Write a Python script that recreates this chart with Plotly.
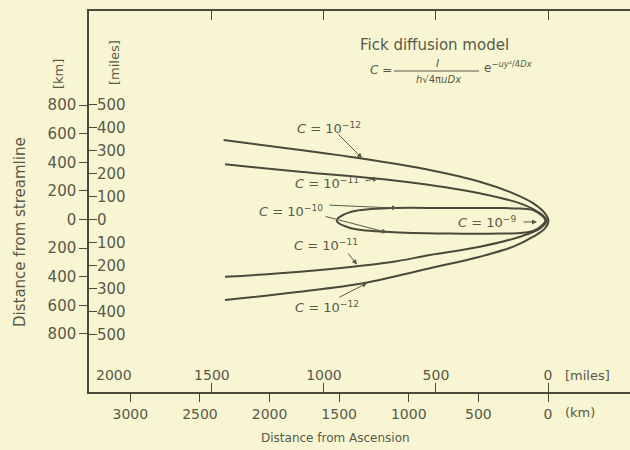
import plotly.graph_objects as go

KM_PER_MILE = 1.609344

# ---- data (km): x = distance from Ascension, y = distance from streamline ----
c12_x = [2330, 1780, 1350, 850, 490, 250, 105, 22, -3, 22, 106, 249, 489, 848, 1329, 1782, 2320]
c12_y = [556, 486, 428, 346, 264, 183, 113, 43, -7, -62, -120, -190, -260, -341, -446, -505, -563]
c11_x = [2320, 1782, 1135, 848, 489, 201, 57, 10, 57, 201, 489, 848, 1135, 1782, 2320]
c11_y = [386, 334, 276, 241, 183, 113, 43, -7, -62, -120, -190, -248, -299, -365, -400]
c10_x = [1518, 1422, 1135, 704, 345, 201, 108, 40, 18, 40, 108, 201, 345, 704, 1135, 1422, 1518]
c10_y = [-7, 52, 80, 80, 80, 77, 66, 24, -7, -38, -80, -94, -98, -98, -87, -59, -7]

km_x_ticks = [3000, 2500, 2000, 1500, 1000, 500, 0]
mile_x_ticks = [2000, 1500, 1000, 500, 0]
km_y_ticks = [-800, -600, -400, -200, 0, 200, 400, 600, 800]
mile_y_ticks = [-500, -400, -300, -200, -100, 0, 100, 200, 300, 400, 500]

x_range_km = [3297, -589]
y_range_km = [-1206, 1458]

# labels: (text, label x, label y, arrow tail x, tail y, head x, head y)
contour_labels = [
    ("<i>C</i> = 10<sup>−12</sup>", 1573, 640, 1516, 605, 1336, 430),
    ("<i>C</i> = 10<sup>−11</sup>", 1588, 255, 1322, 269, 1221, 286),
    ("<i>C</i> = 10<sup>−10</sup>", 1846, 59, 1580, 101, 1085, 80),
    (None, None, None, 1609, 24, 1157, -90),
    ("<i>C</i> = 10<sup>−11</sup>", 1595, -178, 1444, -227, 1372, -315),
    ("<i>C</i> = 10<sup>−12</sup>", 1588, -612, 1509, -549, 1300, -444),
    ("<i>C</i> = 10<sup>−9</sup>", 438, -17, 187, -17, 79, -17),
]

BG = "rgb(248,246,210)"
INK = "#4a4a3c"
TXT = "#58584a"
FONT = "DejaVu Sans"

fig = go.Figure()
for xs, ys in [(c12_x, c12_y), (c11_x, c11_y), (c10_x, c10_y)]:
    fig.add_trace(go.Scatter(x=xs, y=ys, mode="lines",
                             line=dict(color=INK, width=2, shape="spline", smoothing=1.0),
                             showlegend=False, hoverinfo="skip"))
fig.add_trace(go.Scatter(x=[], y=[], xaxis="x2", yaxis="y2", showlegend=False))

W, H = 630, 450
L, R, T, B = 89, 0, 11, 58
pw, ph = W - L - R, H - T - B


def px(xp):
    return (xp - L) / pw


def py(yp):
    return (H - B - yp) / ph


def note(xp, yp, text, size, angle=0, xanchor="center"):
    return dict(x=px(xp), y=py(yp), xref="paper", yref="paper", text=text,
                xanchor=xanchor, yanchor="middle", textangle=angle, showarrow=False,
                font=dict(size=size, color=TXT, family=FONT))


ann = []
for text, lx, ly, tx, ty, hx, hy in contour_labels:
    if text is not None:
        ann.append(dict(x=lx, y=ly, xref="x", yref="y", text=text, showarrow=False,
                        xanchor="center", yanchor="middle",
                        font=dict(size=13, color=TXT, family=FONT)))
    ann.append(dict(x=hx, y=hy, ax=tx, ay=ty, xref="x", yref="y", axref="x", ayref="y",
                    text="", showarrow=True, arrowhead=2, arrowsize=1, arrowwidth=1,
                    arrowcolor=TXT))

ann += [
    note(434, 45, "Fick diffusion model", 15),
    note(381, 70, "<i>C</i> =", 12),
    note(437, 63, "<i>I</i>", 11),
    note(438, 79, "<i>h</i>√4π<i>uDx</i>", 10),
    note(482, 67, "e<sup>−<i>uy</i>²/4<i>Dx</i></sup>", 12, xanchor="left"),
    note(335, 438, "Distance from Ascension", 12),
    note(20, 232, "Distance from streamline", 15, angle=-90),
    note(58, 74, "[km]", 13, angle=-90),
    note(114, 63, "[miles]", 13, angle=-90),
    note(563, 413, "(km)", 13, xanchor="left"),
    note(563, 375, "[miles]", 13, xanchor="left"),
    dict(x=mile_x_ticks[0], y=py(375), xref="x2", yref="paper", xshift=14, text="2000",
         xanchor="center", yanchor="middle", showarrow=False,
         font=dict(size=14, color=TXT, family=FONT)),
]

fig.add_shape(type="line", xref="paper", yref="paper", x0=px(394), x1=px(479),
              y0=py(71), y1=py(71), line=dict(color=TXT, width=1))

bottom_font = dict(size=14, color=TXT, family=FONT)
left_font = dict(size=15, color=TXT, family=FONT)

fig.update_layout(
    width=W, height=H, autosize=False,
    margin=dict(l=L, r=R, t=T, b=B, pad=0),
    paper_bgcolor=BG, plot_bgcolor=BG,
    showlegend=False,
    annotations=ann,
    xaxis=dict(range=x_range_km, showgrid=False, zeroline=False,
               showline=True, linecolor=INK, linewidth=1.5,
               ticks="outside", ticklen=8, tickwidth=1, tickcolor=INK,
               tickvals=km_x_ticks, ticktext=[str(v) for v in km_x_ticks],
               tickfont=bottom_font),
    xaxis2=dict(range=[v / KM_PER_MILE for v in x_range_km], overlaying="x", side="bottom",
                anchor="y", showgrid=False, zeroline=False,
                showline=True, linecolor=INK, linewidth=1.5, mirror="ticks",
                ticks="inside", ticklen=9, tickwidth=1, tickcolor=INK,
                ticklabelposition="inside",
                tickvals=mile_x_ticks, ticktext=[""] + [str(v) for v in mile_x_ticks[1:]],
                tickfont=bottom_font),
    yaxis=dict(range=y_range_km, showgrid=False, zeroline=False,
               showline=True, linecolor=INK, linewidth=1.5,
               ticks="outside", ticklen=8, tickwidth=1, tickcolor=INK,
               tickvals=km_y_ticks, ticktext=[str(abs(v)) for v in km_y_ticks],
               tickfont=left_font),
    yaxis2=dict(range=[v / KM_PER_MILE for v in y_range_km], overlaying="y", side="left",
                anchor="x", showgrid=False, zeroline=False, showline=False,
                ticks="inside", ticklen=8, tickwidth=1, tickcolor=INK,
                ticklabelposition="inside",
                tickvals=mile_y_ticks, ticktext=[str(abs(v)) for v in mile_y_ticks],
                tickfont=left_font),
)

page_js = ("document.body.style.margin='0px';document.body.style.padding='0px';"
           "document.body.style.backgroundColor='rgb(248,246,210)';"
           "document.documentElement.style.overflow='hidden';")

fig.write_html("out.html", post_script=page_js, config={"displayModeBar": False})
